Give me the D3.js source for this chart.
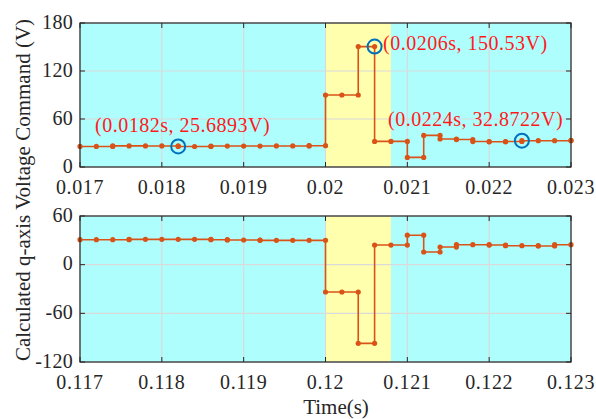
<!DOCTYPE html>
<html>
<head>
<meta charset="utf-8">
<script src="https://cdn.jsdelivr.net/npm/d3@7"></script>
<style>
html,body{margin:0;padding:0;background:#fff;}
svg{display:block;}
text{font-family:"Liberation Serif","Times New Roman",serif;}
</style>
</head>
<body>
<svg id="chart" width="596" height="419"></svg>
<script>
// ---- data ----
const timeTop = [0.0170,0.0172,0.0174,0.0176,0.0178,0.0180,0.0182,0.0184,0.0186,0.0188,0.0190,0.0192,0.0194,0.0196,0.0198,
                 0.0200,0.0202,0.0204,0.0206,0.0208,0.0210,0.0212,0.0214,0.0216,0.0218,0.0220,0.0222,0.0224,0.0226,0.0228,0.0230];
const valuesTop = [25.7,25.7,26.4,26.4,26.3,26.3,25.6893,25.6,26.2,26.2,26.2,26.2,26.3,26.3,26.6,
                   90.0,90.0,150.53,32.0,32.0,12.0,39.5,35.0,34.3,31.8,31.5,31.9,32.8722,32.9,32.9,33.3];
const timeBottom = [0.1170,0.1172,0.1174,0.1176,0.1178,0.1180,0.1182,0.1184,0.1186,0.1188,0.1190,0.1192,0.1194,0.1196,0.1198,
                    0.1200,0.1202,0.1204,0.1206,0.1208,0.1210,0.1212,0.1214,0.1216,0.1218,0.1220,0.1222,0.1224,0.1226,0.1228,0.1230];
const valuesBottom = [30.8,30.8,30.8,31.2,31.2,31.2,31.2,31.2,30.8,30.4,30.4,30.0,30.0,30.0,30.0,
                      -33.7,-33.7,-97.0,24.2,24.2,36.3,15.6,21.7,24.6,24.6,24.2,23.4,23.4,23.0,24.6,24.6];
const xTicksTop = [0.017,0.018,0.019,0.020,0.021,0.022,0.023];
const xTickLabelsTop = ["0.017","0.018","0.019","0.02","0.021","0.022","0.023"];
const xTicksBottom = [0.117,0.118,0.119,0.120,0.121,0.122,0.123];
const xTickLabelsBottom = ["0.117","0.118","0.119","0.12","0.121","0.122","0.123"];
const yTicksTop = [0,60,120,180];
const yTicksBottom = [-120,-60,0,60];
const highlightTop = [0.0200,0.0208];
const highlightBottom = [0.1200,0.1208];
// data tips: [time, value, label]
const tipsTop = [
  [0.0182, 25.6893, "(0.0182s, 25.6893V)"],
  [0.0206, 150.53, "(0.0206s, 150.53V)"],
  [0.0224, 32.8722, "(0.0224s, 32.8722V)"]
];
const tipsBottom = [];

// ---- styles ----
const C = {
  bg: "#aefefe", hl: "#ffffae", grid: "#dadada", axis: "#262626",
  line: "#d95319", tip: "#0072bd", tipText: "#ff1a1a"
};
const svg = d3.select("#chart");
const L = 80, R = 571;

function panel(cfg) {
  const x = d3.scaleLinear().domain(cfg.xDomain).range([L, R]);
  const y = d3.scaleLinear().domain(cfg.yDomain).range([cfg.bottom, cfg.top]);
  const g = svg.append("g");
  g.append("rect").attr("x", L).attr("y", cfg.top).attr("width", R - L).attr("height", cfg.bottom - cfg.top).attr("fill", C.bg);
  g.append("rect").attr("x", x(cfg.hl[0])).attr("y", cfg.top).attr("width", x(cfg.hl[1]) - x(cfg.hl[0]))
    .attr("height", cfg.bottom - cfg.top).attr("fill", C.hl);
  // grid
  g.selectAll(".gx").data(cfg.xTicks).enter().append("line")
    .attr("x1", d => x(d)).attr("x2", d => x(d)).attr("y1", cfg.top).attr("y2", cfg.bottom)
    .attr("stroke", C.grid).attr("stroke-width", 1.2);
  g.selectAll(".gy").data(cfg.yTicks).enter().append("line")
    .attr("y1", d => y(d)).attr("y2", d => y(d)).attr("x1", L).attr("x2", R)
    .attr("stroke", C.grid).attr("stroke-width", 1.2);
  // stair line
  const pts = cfg.t.map((t, i) => [t, cfg.v[i]]);
  const line = d3.line().x(d => x(d[0])).y(d => y(d[1])).curve(d3.curveStepAfter);
  g.append("path").datum(pts).attr("d", line).attr("fill", "none")
    .attr("stroke", C.line).attr("stroke-width", 1.6);
  // markers at all corners
  const marks = [];
  pts.forEach((p, i) => {
    if (i > 0 && Math.abs(cfg.v[i - 1] - p[1]) > 0.3) marks.push([p[0], cfg.v[i - 1]]);
    marks.push(p);
  });
  g.selectAll(".m").data(marks).enter().append("circle")
    .attr("cx", d => x(d[0])).attr("cy", d => y(d[1])).attr("r", 2.6).attr("fill", C.line);
  // data tips
  cfg.tips.forEach(tp => {
    g.append("circle").attr("cx", x(tp[0])).attr("cy", y(tp[1])).attr("r", 7)
      .attr("fill", "none").attr("stroke", C.tip).attr("stroke-width", 2);
  });
  // axes box
  g.append("rect").attr("x", L).attr("y", cfg.top).attr("width", R - L).attr("height", cfg.bottom - cfg.top)
    .attr("fill", "none").attr("stroke", C.axis).attr("stroke-width", 1.2);
  const tl = 5;
  cfg.xTicks.forEach(d => {
    g.append("line").attr("x1", x(d)).attr("x2", x(d)).attr("y1", cfg.bottom).attr("y2", cfg.bottom - tl).attr("stroke", C.axis);
    g.append("line").attr("x1", x(d)).attr("x2", x(d)).attr("y1", cfg.top).attr("y2", cfg.top + tl).attr("stroke", C.axis);
  });
  cfg.yTicks.forEach(d => {
    g.append("line").attr("y1", y(d)).attr("y2", y(d)).attr("x1", L).attr("x2", L + tl).attr("stroke", C.axis);
    g.append("line").attr("y1", y(d)).attr("y2", y(d)).attr("x1", R).attr("x2", R - tl).attr("stroke", C.axis);
  });
  // tick labels
  g.selectAll(".xl").data(cfg.xTicks).enter().append("text")
    .attr("x", d => x(d)).attr("y", cfg.bottom + 26.5).attr("text-anchor", "middle")
    .attr("font-size", 20).attr("letter-spacing", 0.6).attr("fill", C.axis)
    .text((d, i) => cfg.xLabels[i]);
  g.selectAll(".yl").data(cfg.yTicks).enter().append("text")
    .attr("x", L - 7).attr("y", d => y(d) + 5.5).attr("text-anchor", "end")
    .attr("font-size", 20).attr("letter-spacing", 0.3).attr("fill", C.axis)
    .text(d => d);
  return {x, y, g};
}

const panelTop = panel({xDomain: [0.017, 0.023], yDomain: [0, 180], top: 23, bottom: 167,
  t: timeTop, v: valuesTop, xTicks: xTicksTop, xLabels: xTickLabelsTop, yTicks: yTicksTop,
  hl: highlightTop, tips: tipsTop});
const panelBottom = panel({xDomain: [0.117, 0.123], yDomain: [-120, 60], top: 216, bottom: 362,
  t: timeBottom, v: valuesBottom, xTicks: xTicksBottom, xLabels: xTickLabelsBottom, yTicks: yTicksBottom,
  hl: highlightBottom, tips: tipsBottom});

// data tip labels
const tipPos = [[95, 132], [383, 50], [388, 126]];
tipsTop.forEach((tp, i) => {
  svg.append("text").attr("x", tipPos[i][0]).attr("y", tipPos[i][1])
    .attr("font-size", 20).attr("letter-spacing", 0.5).attr("fill", C.tipText).text(tp[2]);
});

// axis labels
svg.append("text").attr("x", 336).attr("y", 414).attr("text-anchor", "middle")
  .attr("font-size", 21).attr("fill", C.axis).text("Time(s)");
svg.append("text").attr("transform", "translate(30,190) rotate(-90)").attr("text-anchor", "middle")
  .attr("font-size", 21).attr("fill", C.axis).text("Calculated q-axis Voltage Command (V)");
</script>
</body>
</html>
